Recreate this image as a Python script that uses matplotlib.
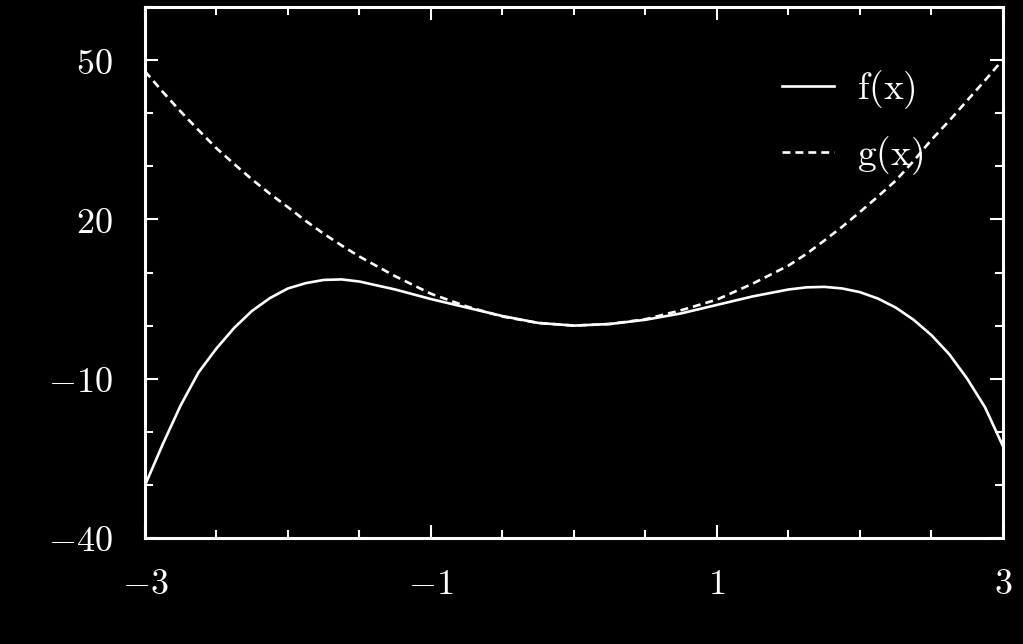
import matplotlib
matplotlib.use("Agg")
from matplotlib import pyplot as plt
from matplotlib.ticker import MultipleLocator

# values
x = [-3.0, -2.875, -2.75, -2.625, -2.5, -2.375, -2.25, -2.125, -2.0, -1.875, -1.75, -1.625, -1.5,
     -1.25, -1.0, -0.75, -0.5, -0.25, 0.0, 0.25, 0.5, 0.75, 1.0, 1.25, 1.5, 1.625, 1.75, 1.875,
     2.0, 2.125, 2.25, 2.375, 2.5, 2.625, 2.75, 2.875, 3.0]
f_vals = [-30.1, -22.3, -15.0, -8.8, -4.3, -0.4, 2.8, 5.2, 7.0, 8.0, 8.6, 8.7, 8.3,
          6.8, 5.0, 3.4, 1.8, 0.5, 0.0, 0.3, 1.1, 2.3, 3.9, 5.5, 6.8, 7.2, 7.3, 7.0,
          6.3, 5.1, 3.4, 1.1, -1.8, -5.4, -10.0, -15.4, -22.7]
g_vals = [47.9, 44.0, 40.3, 36.8, 33.4, 30.4, 27.5, 24.8, 22.3, 19.7, 17.3, 15.1, 13.0,
          9.3, 6.0, 3.6, 1.7, 0.5, 0.0, 0.3, 1.2, 2.9, 4.9, 7.9, 11.3, 13.5, 16.0, 18.6,
          21.4, 24.3, 27.3, 31.0, 35.0, 38.6, 42.4, 46.2, 50.1]

xticks = [-3, -1, 1, 3]
xtick_labels = [r"$-3$", r"$-1$", r"$1$", r"$3$"]
yticks = [-40, -10, 20, 50]
ytick_labels = [r"$-40$", r"$-10$", r"$20$", r"$50$"]

plt.rcParams["mathtext.fontset"] = "cm"

fig = plt.figure(figsize=(10.23, 6.44), dpi=100, facecolor="black")
ax = fig.add_axes([0.1417, 0.1646, 0.8387, 0.8245], facecolor="black")

ax.plot(x, f_vals, color="white", lw=1.9, label=r"$\mathrm{f(x)}$")
ax.plot(x, g_vals, color="white", lw=1.9, dashes=(3.0, 1.9), label=r"$\mathrm{g(x)}$")

ax.set_xlim(-3, 3)
ax.set_ylim(-40, 60)
ax.set_xticks(xticks)
ax.set_xticklabels(xtick_labels)
ax.set_yticks(yticks)
ax.set_yticklabels(ytick_labels)
ax.xaxis.set_minor_locator(MultipleLocator(0.5))
ax.yaxis.set_minor_locator(MultipleLocator(10))

for s in ax.spines.values():
    s.set_color("white")
    s.set_linewidth(2.2)
ax.tick_params(which="both", direction="in", top=True, right=True, colors="white", width=1.5)
ax.tick_params(which="major", length=9.4, labelsize=26)
ax.tick_params(which="minor", length=5.8)
ax.tick_params(axis="x", which="major", pad=21)
ax.tick_params(axis="y", which="major", pad=23)

leg = ax.legend(loc="upper left", bbox_to_anchor=(0.742, 0.885), frameon=False, fontsize=27,
                handlelength=1.4, handletextpad=0.6, labelspacing=0.62, borderpad=0, borderaxespad=0)
for t in leg.get_texts():
    t.set_color("white")

fig.savefig("out.png", dpi=100, facecolor="black")
